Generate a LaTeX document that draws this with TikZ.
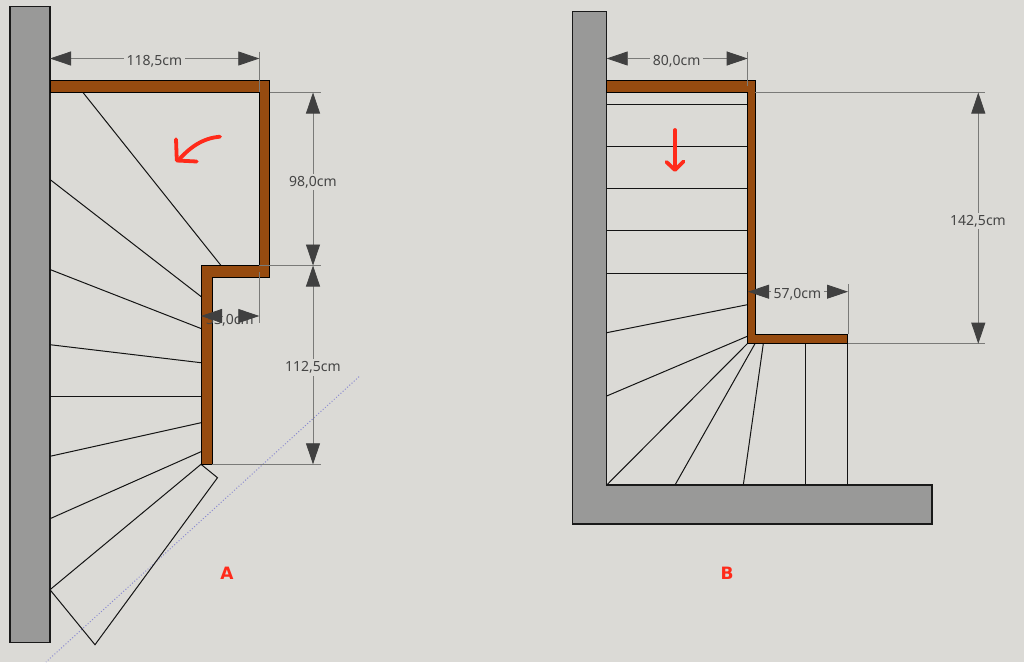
\documentclass[tikz,border=0pt]{standalone}
\usepackage{fontspec}
\setmainfont{Noto Sans}
\newfontfamily\tagfont{DejaVu Sans}
\usetikzlibrary{arrows.meta}
\definecolor{bgc}{HTML}{DBDAD6}
\definecolor{wallc}{HTML}{999998}
\definecolor{brownc}{HTML}{964B10}
\definecolor{dimc}{HTML}{7A7A78}
\definecolor{tipc}{HTML}{404040}
\definecolor{txtc}{HTML}{454545}
\definecolor{redc}{HTML}{FF2A1A}
\definecolor{guidec}{HTML}{8C8CD0}
\tikzset{
  wallshape/.style={draw=black!90,line width=1.1pt,fill=wallc,line join=miter},
  beam/.style={draw=black,line width=.9pt,fill=brownc,line join=miter},
  tread/.style={draw=black!92,line width=1pt},
  extline/.style={draw=dimc,line width=.8pt},
  dimline/.style={draw=dimc,line width=.8pt,{Triangle[length=21pt,width=14pt,color=tipc]}-{Triangle[length=21pt,width=14pt,color=tipc]}},
  headstart/.style={draw=dimc,line width=.8pt,{Triangle[length=21pt,width=14pt,color=tipc]}-},
  dimtext/.style={font=\fontsize{14}{14}\selectfont,text=txtc,fill=bgc,inner sep=2.5pt},
  redmark/.style={draw=redc,line width=3.8pt,line cap=round,line join=round},
  lettertag/.style={font=\tagfont\fontsize{17}{17}\selectfont\bfseries,text=redc,inner sep=0pt},
  guide/.style={draw=guidec,line width=1pt,dotted}
}
\begin{document}
\begin{tikzpicture}[x=1pt,y=-1pt]
\useasboundingbox (0,0) rectangle (1024,662);
\fill[bgc] (0,0) rectangle (1024,662);

% ---------- A ----------
\draw[guide] (359,376.7) -- (46,662);
\draw[wallshape] (10,6.5) rectangle (50,642.7);
\foreach \xa/\ya/\xb/\yb in {83/92.5/221/265.5, 50/179.5/201/296.5, 50/269.5/201/328.5,
  50/344.7/201/362.7, 50/396.3/201/396.3, 50/456.3/201/422.7, 50/518.7/201/451.7}
  \draw[tread] (\xa,\ya) -- (\xb,\yb);
\draw[tread,line join=miter] (201,464.3) -- (50,589.7) -- (95,644.7) -- (217.5,477.7) -- cycle;
\draw[beam] (50,80.5) -- (269.5,80.5) -- (269.5,277) -- (212,277) -- (212,464) -- (201,464)
  -- (201,265.5) -- (259.3,265.5) -- (259.3,92.5) -- (50,92.5) -- cycle;

\coordinate (a1) at (50,58.5);
\coordinate (a2) at (259.3,58.5);
\coordinate (a3) at (313,92.5);
\coordinate (a4) at (313,265.5);
\coordinate (a5) at (313,464.3);
\coordinate (a6) at (201,316);
\coordinate (a7) at (259.3,316);
\draw[extline] (259.3,51.5) -- (259.3,92);
\draw[extline] (269.5,92.5) -- (321,92.5);
\draw[extline] (259.3,265.5) -- (321,265.5);
\draw[extline] (212,464.3) -- (321,464.3);
\draw[extline] (259.3,272) -- (259.3,323);
\draw[dimline] (a1) -- (a2);
\draw[dimline] (a3) -- (a4);
\draw[dimline] (a4) -- (a5);
\node[dimtext] (t1) at (154.5,61) {118,5cm};
\node[dimtext] (t2) at (313,182) {98,0cm};
\node[dimtext] (t3) at (313,367.7) {112,5cm};
\node[dimtext,fill=none] (t4) at (230,320) {33,0cm};
\draw[headstart] (a6) -- ++(22,0);
\draw[headstart] (a7) -- ++(-22,0);

\draw[redmark] (220,136.7) .. controls (203,138) and (190,147) .. (178,160.7);
\draw[redmark] (176,139.3) -- (176.8,160.5) -- (196.7,161.5);
\node[lettertag] (la) at (227,573.5) {A};

% ---------- B ----------
\draw[wallshape] (572.7,11.7) -- (606.7,11.7) -- (606.7,485) -- (932,485) -- (932,524) -- (572.7,524) -- cycle;
\foreach \xa/\ya/\xb/\yb in {606.7/104/747.3/104, 606.7/146.3/747.3/146.3, 606.7/188.7/747.3/188.7,
  606.7/230.7/747.3/230.7, 606.7/273.3/747.3/273.3, 606.7/332.7/747.3/304.7, 606.7/396/747.3/336.3,
  606.7/485/747.3/343.7, 675/485/755/343.7, 743.3/485/763.3/343.7, 805.7/485/805.7/343.7, 847.7/485/847.7/343.7}
  \draw[tread] (\xa,\ya) -- (\xb,\yb);
\draw[beam] (606.7,80.5) -- (755.3,80.5) -- (755.3,334) -- (847.7,334) -- (847.7,343.7)
  -- (747.3,343.7) -- (747.3,92.5) -- (606.7,92.5) -- cycle;

\coordinate (b1) at (606.7,58.5);
\coordinate (b2) at (747.7,58.5);
\coordinate (b3) at (978.3,92.5);
\coordinate (b4) at (978.3,343.7);
\coordinate (b5) at (748,291.7);
\coordinate (b6) at (848,291.7);
\draw[extline] (747.7,51.5) -- (747.7,86);
\draw[extline] (755.3,92.5) -- (985,92.5);
\draw[extline] (848,343.7) -- (985,343.7);
\draw[extline] (848,284.3) -- (848,334);
\draw[dimline] (b1) -- (b2);
\draw[dimline] (b3) -- (b4);
\draw[dimline] (b5) -- (b6);
\node[dimtext] (t5) at (676.7,61) {80,0cm};
\node[dimtext] (t6) at (978,221) {142,5cm};
\node[dimtext] (t7) at (797.5,294.5) {57,0cm};

\draw[redmark] (675,130) -- (675,169);
\draw[redmark] (666.5,162) -- (675,170) -- (683.5,161.5);
\node[lettertag] (lb) at (727,573) {B};
\end{tikzpicture}
\end{document}
